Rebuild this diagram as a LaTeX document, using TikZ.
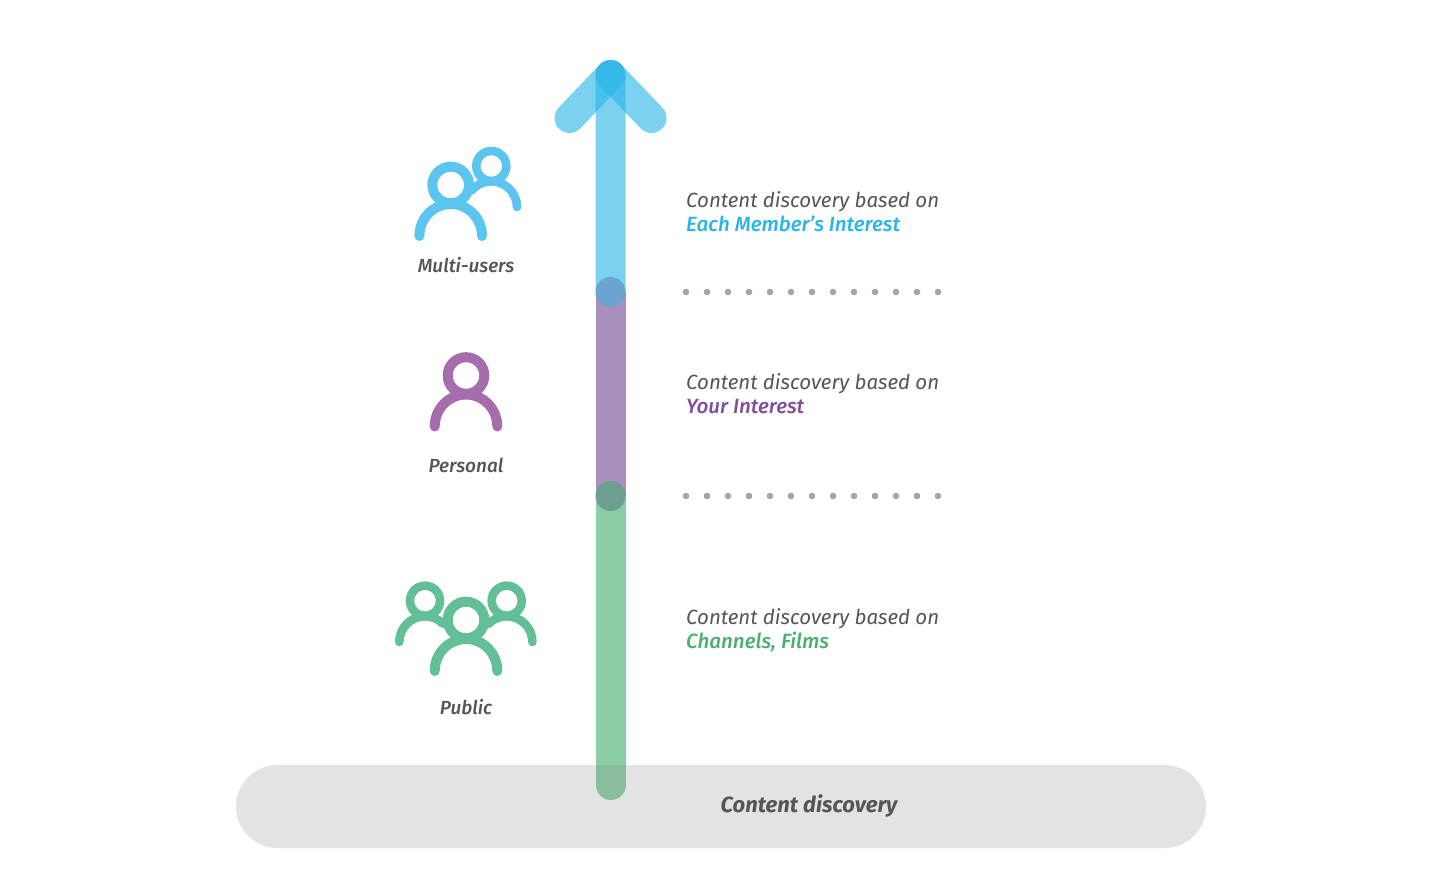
\documentclass[tikz,border=0pt]{standalone}
\usepackage{fontspec}
\setmainfont{Fira Sans}
\newfontfamily\medit{Fira Sans Medium Italic}
\usetikzlibrary{calc}
\definecolor{cblue}{HTML}{29B6E8}
\definecolor{cpurple}{HTML}{764A94}
\definecolor{cgreen}{HTML}{44B16E}
\definecolor{iblue}{HTML}{5BC5F0}
\definecolor{ipurple}{HTML}{A56DAC}
\definecolor{igreen}{HTML}{63BF96}
\definecolor{tgrey}{HTML}{555555}
\definecolor{tblue}{HTML}{29B5E8}
\definecolor{tpurple}{HTML}{7F4F9E}
\definecolor{tgreen}{HTML}{4CB072}
\definecolor{dotgrey}{HTML}{A5A5A5}
\definecolor{jointa}{HTML}{6DA3D0}
\definecolor{jointb}{HTML}{6C9E92}
\tikzset{
  x=1pt,y=-1pt,
  shaft/.style={line width=30pt,opacity=.62},
  bigline/.style={line width=10pt,line cap=round},
  smallline/.style={line width=8.6pt,line cap=round},
  desc/.style={anchor=base west,inner sep=0pt,font=\itshape\fontsize{20.5}{21}\selectfont,text=tgrey},
  hl/.style={anchor=base west,inner sep=0pt,font=\medit\fontsize{20.6}{21}\selectfont,text=#1},
  lab/.style={anchor=base,inner sep=0pt,font=\medit\fontsize{19}{19}\selectfont,text=tgrey},
  joint/.style={circle,inner sep=0pt,minimum size=30pt,fill=#1},
  dotn/.style={circle,inner sep=0pt,minimum size=6.6pt,fill=dotgrey},
}
% big person: centre x, head centre y, colour
\newcommand{\bigperson}[3]{%
  \draw[#3,bigline] (#1,#2) circle[radius=18.3];
  \draw[#3,bigline] (#1-31.3,#2+51) arc[start angle=180,end angle=360,x radius=31.3,y radius=32];
}
\begin{document}
\begin{tikzpicture}
\useasboundingbox (0,0) rectangle (1430,890);
\fill[white] (0,0) rectangle (1430,890);
\coordinate (tip) at (610.5,75);
\coordinate (armL) at (569.5,118);
\coordinate (armR) at (651.5,118);
\coordinate (j1) at (610.5,292);
\coordinate (j2) at (610.5,496);
\coordinate (base) at (610.5,785);
% arrow
\draw[shaft,cblue,line cap=round] (tip) -- (armL);
\draw[shaft,cblue,line cap=round] (tip) -- (armR);
\fill[cblue,opacity=.62] (595.5,292) -- (595.5,75) arc[start angle=180,end angle=360,radius=15] -- (625.5,292) -- cycle;
\draw[shaft,cpurple] (j1) -- (j2);
\draw[shaft,cgreen,line cap=round] (j2) -- (base);
\node[joint=jointa] (n1) at (j1) {};
\node[joint=jointb] (n2) at (j2) {};
% bar
\fill[fill=black!47,fill opacity=.233,rounded corners=41.5pt] (236,765) rectangle (1206,848);
\node[anchor=base,inner sep=0pt,font=\itshape\bfseries\fontsize{22}{24}\selectfont,text=tgrey] (cd) at (809,812) {Content discovery};
% dots
\foreach \i in {0,...,12}{
  \node[dotn] (da\i) at (686+21*\i,292) {};
  \node[dotn] (db\i) at (686+21*\i,496) {};
}
% multi users
\draw[iblue,smallline] (491.3,166) circle[radius=15];
\draw[iblue,smallline] (471.6,190.5) arc[start angle=220,end angle=360,radius=25.7];
\bigperson{450.7}{185}{iblue}
% personal
\bigperson{466}{375.5}{ipurple}
% public
\draw[igreen,smallline] (425,600.7) circle[radius=15];
\draw[igreen,smallline] (506.7,600.7) circle[radius=15];
\draw[igreen,smallline] (399.3,642) arc[start angle=180,end angle=315,radius=25.7];
\draw[igreen,smallline] (532.4,642) arc[start angle=0,end angle=-135,radius=25.7];
\bigperson{466}{620}{igreen}
% labels
\node[lab] (l1) at (466,273) {Multi-users};
\node[lab] (l2) at (466,472) {Personal};
\node[lab] (l3) at (466,714) {Public};
\node[desc] (d1) at (686,207.5) {Content discovery based on};
\node[hl=tblue] (h1) at (686,232) {Each Member’s Interest};
\node[desc] (d2) at (686,389.5) {Content discovery based on};
\node[hl=tpurple] (h2) at (686,414) {Your Interest};
\node[desc] (d3) at (686,624) {Content discovery based on};
\node[hl=tgreen] (h3) at (686,648) {Channels, Films};
\end{tikzpicture}
\end{document}
